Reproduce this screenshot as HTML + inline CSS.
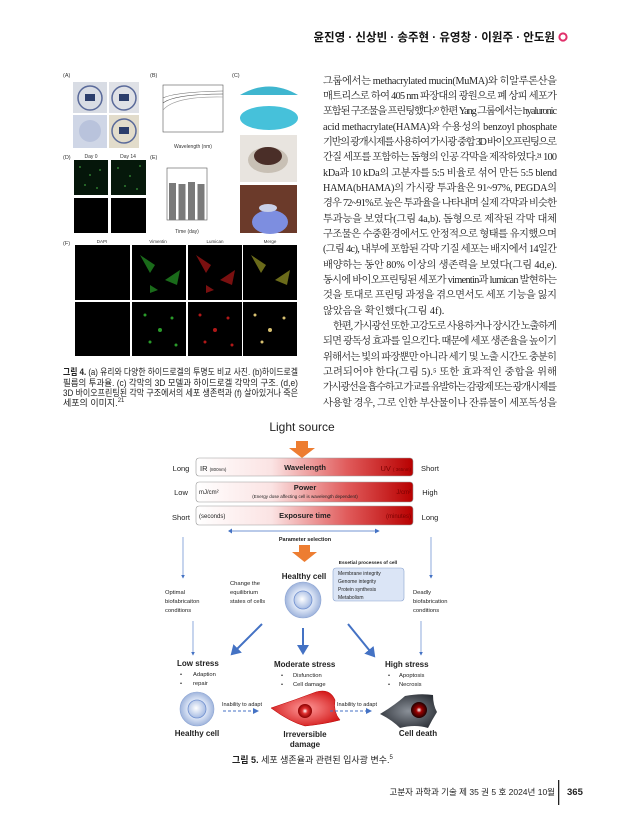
<!DOCTYPE html>
<html><head><meta charset="utf-8"><style>
html,body{margin:0;padding:0;background:#fff;}
svg{display:block;}
.kr{font-family:"Liberation Serif","Noto Serif CJK KR",serif;font-size:10.2px;fill:#222;}
.s{font-family:"Liberation Sans","Noto Sans CJK KR",sans-serif;}
</style></head><body>
<svg width="622" height="830" viewBox="0 0 622 830" xmlns="http://www.w3.org/2000/svg">
<defs>
<linearGradient id="bar" x1="0" x2="1"><stop offset="0" stop-color="#fff"/><stop offset="0.35" stop-color="#fbe3e3"/><stop offset="0.7" stop-color="#e05a5a"/><stop offset="1" stop-color="#b80000"/></linearGradient>
<radialGradient id="hc" cx="0.5" cy="0.5" r="0.5"><stop offset="0" stop-color="#fff"/><stop offset="0.55" stop-color="#dde6f6"/><stop offset="1" stop-color="#9fb4dc"/></radialGradient>
<radialGradient id="hn" cx="0.45" cy="0.45" r="0.6"><stop offset="0" stop-color="#fff"/><stop offset="1" stop-color="#9eb5e0"/></radialGradient>
<radialGradient id="rc" cx="0.5" cy="0.5" r="0.5"><stop offset="0" stop-color="#fff"/><stop offset="0.4" stop-color="#e03030"/><stop offset="1" stop-color="#8b0000"/></radialGradient>
<radialGradient id="rb" cx="0.5" cy="0.5" r="0.6"><stop offset="0" stop-color="#ff9a9a"/><stop offset="1" stop-color="#d01010"/></radialGradient>
<radialGradient id="dc" cx="0.5" cy="0.5" r="0.5"><stop offset="0" stop-color="#fff"/><stop offset="0.35" stop-color="#a00000"/><stop offset="1" stop-color="#200000"/></radialGradient>
<radialGradient id="db" cx="0.5" cy="0.5" r="0.6"><stop offset="0" stop-color="#8a9098"/><stop offset="1" stop-color="#2b2f36"/></radialGradient>
<marker id="ab" markerWidth="6" markerHeight="6" refX="5" refY="3" orient="auto"><path d="M0,0 L6,3 L0,6 z" fill="#4472c4"/></marker>
<marker id="as" markerWidth="8" markerHeight="8" refX="4" refY="4" orient="auto"><path d="M0,1 L5,4 L0,7 z" fill="#4472c4"/></marker>
</defs>

<text x="555" y="41" text-anchor="end" class="s" font-size="11.5" font-weight="bold" fill="#111">윤진영 · 신상빈 · 송주현 · 유영창 · 이원주 · 안도원</text>
<circle cx="563" cy="37" r="3.6" fill="none" stroke="#e0306a" stroke-width="2"/>

<g class="s" font-size="5.5" fill="#333">
<text x="63" y="77">(A)</text><text x="150" y="77">(B)</text><text x="232" y="77">(C)</text>
<text x="63" y="159">(D)</text><text x="150" y="159">(E)</text><text x="63" y="245">(F)</text>
</g>
<g>
<rect x="73" y="82" width="34" height="31" fill="#d8dce4"/><rect x="109" y="82" width="30" height="31" fill="#dfe1e6"/>
<rect x="73" y="115" width="34" height="33" fill="#cfd6e6"/><rect x="109" y="115" width="30" height="33" fill="#e2dccb"/>
<circle cx="90" cy="98" r="12" fill="none" stroke="#5a6a9a" stroke-width="1.5"/><rect x="85" y="94" width="10" height="7" fill="#2b3d6b"/>
<circle cx="124" cy="98" r="12" fill="none" stroke="#5a6a9a" stroke-width="1.5"/><rect x="119" y="94" width="10" height="7" fill="#2b3d6b"/>
<circle cx="90" cy="131" r="11" fill="#b9c3dc"/>
<circle cx="124" cy="131" r="12" fill="none" stroke="#5a6a9a" stroke-width="1.5"/><rect x="119" y="127" width="10" height="7" fill="#2b3d6b"/>
</g>
<g>
<rect x="163" y="85" width="60" height="47" fill="none" stroke="#555" stroke-width="0.6"/>
<path d="M163,98 Q175,92 223,91" stroke="#666" fill="none" stroke-width="0.6"/>
<path d="M163,103 Q175,94 223,94" stroke="#444" fill="none" stroke-width="0.6"/>
<path d="M163,110 Q175,96 223,97" stroke="#999" fill="none" stroke-width="0.6"/>
<text x="193" y="148" text-anchor="middle" class="s" font-size="5" fill="#333">Wavelength (nm)</text>
</g>
<path d="M240,95 Q269,78 298,95 Z" fill="#3fb6cf"/>
<ellipse cx="269" cy="118" rx="29" ry="12" fill="#46c1da"/>
<rect x="240" y="135" width="57" height="47" fill="#e8e4df"/>
<ellipse cx="268" cy="160" rx="20" ry="13" fill="#c8c0b5"/><ellipse cx="268" cy="156" rx="14" ry="9" fill="#4a2e28"/>
<rect x="240" y="185" width="57" height="48" fill="#6b3a2a"/>
<ellipse cx="270" cy="222" rx="18" ry="12" fill="#7d8ee0"/><ellipse cx="268" cy="208" rx="9" ry="4" fill="#c9d0e8"/>
<g class="s" font-size="5" fill="#333"><text x="91" y="158" text-anchor="middle">Day 0</text><text x="128" y="158" text-anchor="middle">Day 14</text></g>
<rect x="74" y="160" width="34" height="35" fill="#05160a"/><rect x="111" y="160" width="35" height="35" fill="#06180b"/>
<rect x="74" y="198" width="34" height="35" fill="#000"/><rect x="111" y="198" width="35" height="35" fill="#000"/>
<g fill="#3c9a3c"><circle cx="80" cy="167" r="0.9"/><circle cx="90" cy="175" r="0.9"/><circle cx="100" cy="170" r="0.9"/><circle cx="85" cy="185" r="0.9"/><circle cx="97" cy="188" r="0.9"/><circle cx="118" cy="168" r="0.9"/><circle cx="130" cy="176" r="0.9"/><circle cx="140" cy="166" r="0.9"/><circle cx="125" cy="186" r="0.9"/><circle cx="137" cy="189" r="0.9"/></g>
<rect x="167" y="168" width="40" height="52" fill="none" stroke="#555" stroke-width="0.6"/>
<g fill="#7a7a7a"><rect x="169" y="183" width="7" height="37"/><rect x="178.5" y="184" width="7" height="36"/><rect x="188" y="182" width="7" height="38"/><rect x="197.5" y="184" width="7" height="36"/></g>
<text x="187" y="233" text-anchor="middle" class="s" font-size="5" fill="#333">Time (day)</text>
<g class="s" font-size="4.5" fill="#333"><text x="102" y="243" text-anchor="middle">DAPI</text><text x="158" y="243" text-anchor="middle">Vimentin</text><text x="215" y="243" text-anchor="middle">Lumican</text><text x="270" y="243" text-anchor="middle">Merge</text></g>
<g fill="#000"><rect x="75" y="245" width="55" height="55"/><rect x="132" y="245" width="54" height="55"/><rect x="188" y="245" width="54" height="55"/><rect x="243" y="245" width="54" height="55"/>
<rect x="75" y="302" width="55" height="54"/><rect x="132" y="302" width="54" height="54"/><rect x="188" y="302" width="54" height="54"/><rect x="243" y="302" width="54" height="54"/></g>
<g fill="#1a6b1a"><path d="M140,255 l15,10 l-5,8 z"/><path d="M165,280 l15,-10 l-3,15 z"/><path d="M150,285 l8,5 l-8,3 z"/></g>
<g fill="#7a1010"><path d="M196,255 l15,10 l-5,8 z"/><path d="M220,280 l15,-10 l-3,15 z"/><path d="M206,285 l8,5 l-8,3 z"/></g>
<g fill="#6b6b1a"><path d="M251,255 l15,10 l-5,8 z"/><path d="M275,280 l15,-10 l-3,15 z"/></g>
<g fill="#2a9a2a"><circle cx="145" cy="315" r="1.5"/><circle cx="160" cy="330" r="2"/><circle cx="172" cy="318" r="1.5"/><circle cx="150" cy="342" r="1.5"/><circle cx="176" cy="345" r="1.5"/></g>
<g fill="#b01818"><circle cx="200" cy="315" r="1.5"/><circle cx="215" cy="330" r="2"/><circle cx="228" cy="318" r="1.5"/><circle cx="205" cy="342" r="1.5"/><circle cx="232" cy="345" r="1.5"/></g>
<g fill="#d8c070"><circle cx="255" cy="315" r="1.5"/><circle cx="270" cy="330" r="2"/><circle cx="284" cy="318" r="1.5"/><circle cx="262" cy="342" r="1.5"/></g>
<g class="s" font-size="9" fill="#222">
<text x="63" y="375" textLength="235" lengthAdjust="spacingAndGlyphs"><tspan font-weight="bold">그림 4.</tspan> (a) 유리와 다양한 하이드로겔의 투명도 비교 사진. (b)하이드로겔</text>
<text x="63" y="386" textLength="235" lengthAdjust="spacingAndGlyphs">필름의 투과율. (c) 각막의 3D 모델과 하이드로겔 각막의 구조. (d,e)</text>
<text x="63" y="396" textLength="235" lengthAdjust="spacingAndGlyphs">3D 바이오프린팅된 각막 구조에서의 세포 생존력과 (f) 살아있거나 죽은</text>
<text x="63" y="406">세포의 이미지.<tspan font-size="6" dy="-4">21</tspan></text>
</g>

<g class="kr">
<text x="323" y="84" textLength="234" lengthAdjust="spacing">그룹에서는 methacrylated mucin(MuMA)와 히알루론산을</text>
<text x="323" y="99" textLength="234" lengthAdjust="spacing">매트리스로 하여 405 nm 파장대의 광원으로 폐 상피 세포가</text>
<text x="323" y="114" textLength="234" lengthAdjust="spacing">포함된 구조물을 프린팅했다.²⁰ 한편 Yang 그룹에서는 hyaluronic</text>
<text x="323" y="130" textLength="234" lengthAdjust="spacing">acid methacrylate(HAMA)와 수용성의 benzoyl phosphate</text>
<text x="323" y="145" textLength="234" lengthAdjust="spacing">기반의 광개시제를 사용하여 가시광 중합 3D 바이오프린팅으로</text>
<text x="323" y="160" textLength="234" lengthAdjust="spacing">간질 세포를 포함하는 돔형의 인공 각막을 제작하였다.²¹ 100</text>
<text x="323" y="176" textLength="234" lengthAdjust="spacing">kDa과 10 kDa의 고분자를 5:5 비율로 섞어 만든 5:5 blend</text>
<text x="323" y="191" textLength="234" lengthAdjust="spacing">HAMA(bHAMA)의 가시광 투과율은 91~97%, PEGDA의</text>
<text x="323" y="206" textLength="234" lengthAdjust="spacing">경우 72~91%로 높은 투과율을 나타내며 실제 각막과 비슷한</text>
<text x="323" y="222" textLength="234" lengthAdjust="spacing">투과능을 보였다(그림 4a,b). 돔형으로 제작된 각막 대체</text>
<text x="323" y="237" textLength="234" lengthAdjust="spacing">구조물은 수중환경에서도 안정적으로 형태를 유지했으며</text>
<text x="323" y="252" textLength="234" lengthAdjust="spacing">(그림 4c), 내부에 포함된 각막 기질 세포는 배지에서 14일간</text>
<text x="323" y="268" textLength="234" lengthAdjust="spacing">배양하는 동안 80% 이상의 생존력을 보였다(그림 4d,e).</text>
<text x="323" y="283" textLength="234" lengthAdjust="spacing">동시에 바이오프린팅된 세포가 vimentin과 lumican 발현하는</text>
<text x="323" y="298" textLength="234" lengthAdjust="spacing">것을 토대로 프린팅 과정을 겪으면서도 세포 기능을 잃지</text>
<text x="323" y="314">않았음을 확인했다(그림 4f).</text>
<text x="333" y="329" textLength="224" lengthAdjust="spacing">한편, 가시광선 또한 고강도로 사용하거나 장시간 노출하게</text>
<text x="323" y="344" textLength="234" lengthAdjust="spacing">되면 광독성 효과를 일으킨다. 때문에 세포 생존율을 높이기</text>
<text x="323" y="360" textLength="234" lengthAdjust="spacing">위해서는 빛의 파장뿐만 아니라 세기 및 노출 시간도 충분히</text>
<text x="323" y="375" textLength="234" lengthAdjust="spacing">고려되어야 한다(그림 5).⁵ 또한 효과적인 중합을 위해</text>
<text x="323" y="390" textLength="234" lengthAdjust="spacing">가시광선을 흡수하고 가교를 유발하는 감광제 또는 광개시제를</text>
<text x="323" y="406" textLength="234" lengthAdjust="spacing">사용할 경우, 그로 인한 부산물이나 잔류물이 세포독성을</text>
</g>

<g class="s" fill="#222">
<text x="302" y="431" text-anchor="middle" font-size="12">Light source</text>
<path d="M296,441 h12 v7 h7 l-13,10 l-13,-10 h7 z" fill="#ed7d31"/>
<rect x="196" y="458" width="217" height="18" rx="3" fill="url(#bar)" stroke="#999" stroke-width="0.6"/>
<rect x="196" y="482" width="217" height="20" rx="3" fill="url(#bar)" stroke="#999" stroke-width="0.6"/>
<rect x="196" y="506" width="217" height="19" rx="3" fill="url(#bar)" stroke="#999" stroke-width="0.6"/>
<g font-size="7.5"><text x="181" y="471" text-anchor="middle">Long</text><text x="430" y="471" text-anchor="middle">Short</text>
<text x="181" y="495" text-anchor="middle">Low</text><text x="430" y="495" text-anchor="middle">High</text>
<text x="181" y="520" text-anchor="middle">Short</text><text x="430" y="520" text-anchor="middle">Long</text></g>
<text x="200" y="471" font-size="7.5">IR <tspan font-size="4.5">(800nm)</tspan></text>
<text x="305" y="470" text-anchor="middle" font-size="7.5" font-weight="bold">Wavelength</text>
<text x="411" y="471" text-anchor="end" font-size="7.5" fill="#7a0000">UV <tspan font-size="4.5">( 365nm)</tspan></text>
<text x="199" y="494" font-size="6">mJ/cm²</text>
<text x="305" y="490" text-anchor="middle" font-size="7.5" font-weight="bold">Power</text>
<text x="305" y="498" text-anchor="middle" font-size="4.5">(Energy dose affecting cell is wavelength dependent)</text>
<text x="411" y="494" text-anchor="end" font-size="6" fill="#7a0000">J/cm²</text>
<text x="199" y="518" font-size="6">(seconds)</text>
<text x="305" y="518" text-anchor="middle" font-size="7.5" font-weight="bold">Exposure time</text>
<text x="411" y="518" text-anchor="end" font-size="6" fill="#7a0000">(minutes)</text>
<line x1="230" y1="531" x2="379" y2="531" stroke="#4472c4" stroke-width="0.8" marker-end="url(#ab)"/>
<path d="M232,528.5 L228,531 L232,533.5 z" fill="#4472c4"/>
<text x="305" y="541" text-anchor="middle" font-size="5.5" font-weight="bold">Parameter selection</text>
<path d="M299,545 h11 v7 h7 l-12.5,10 l-12.5,-10 h7 z" fill="#ed7d31"/>
<text x="368" y="564" text-anchor="middle" font-size="4.8" font-weight="bold">Essetial processes of cell</text>
<rect x="333" y="568" width="71" height="33" rx="3" fill="#dbe5f6" stroke="#8aa3cf" stroke-width="0.6"/>
<g font-size="5"><text x="338" y="575">Membrane integrity</text><text x="338" y="583">Genome integrity</text><text x="338" y="591">Protein synthesis</text><text x="338" y="599">Metabolism</text></g>
<text x="304" y="579" text-anchor="middle" font-size="8" font-weight="bold">Healthy cell</text>
<circle cx="303" cy="600" r="18" fill="url(#hc)" stroke="#8ea6d4" stroke-width="0.6"/>
<circle cx="303" cy="600" r="9" fill="url(#hn)" stroke="#6f8fcf" stroke-width="0.8"/>
<line x1="183" y1="537" x2="183" y2="578" stroke="#4472c4" stroke-width="0.6" marker-end="url(#ab)"/>
<line x1="431" y1="537" x2="431" y2="578" stroke="#4472c4" stroke-width="0.6" marker-end="url(#ab)"/>
<g font-size="5.8"><text x="165" y="594">Optimal</text><text x="165" y="603">biofabricaiton</text><text x="165" y="612">conditions</text>
<text x="230" y="585">Change the</text><text x="230" y="594">equilibrium</text><text x="230" y="603">states of cells</text>
<text x="413" y="594">Deadly</text><text x="413" y="603">biofabrication</text><text x="413" y="612">conditions</text></g>
<line x1="193" y1="621" x2="193" y2="655" stroke="#4472c4" stroke-width="0.6" marker-end="url(#ab)"/>
<line x1="421" y1="621" x2="421" y2="655" stroke="#4472c4" stroke-width="0.6" marker-end="url(#ab)"/>
<line x1="262" y1="624" x2="232" y2="654" stroke="#4472c4" stroke-width="2" marker-end="url(#as)"/>
<line x1="303" y1="628" x2="303" y2="653" stroke="#4472c4" stroke-width="2" marker-end="url(#as)"/>
<line x1="348" y1="624" x2="374" y2="656" stroke="#4472c4" stroke-width="2" marker-end="url(#as)"/>
<text x="177" y="666" font-size="8" font-weight="bold">Low stress</text>
<g font-size="5.8"><text x="180" y="676">•</text><text x="193" y="676">Adaption</text><text x="180" y="685">•</text><text x="193" y="685">repair</text></g>
<text x="274" y="667" font-size="8" font-weight="bold">Moderate stress</text>
<g font-size="5.8"><text x="281" y="677">•</text><text x="293" y="677">Disfunction</text><text x="281" y="686">•</text><text x="293" y="686">Cell damage</text></g>
<text x="385" y="667" font-size="8" font-weight="bold">High stress</text>
<g font-size="5.8"><text x="388" y="677">•</text><text x="399" y="677">Apoptosis</text><text x="388" y="686">•</text><text x="399" y="686">Necrosis</text></g>
<circle cx="197" cy="709" r="17" fill="url(#hc)" stroke="#8ea6d4" stroke-width="0.6"/>
<circle cx="197" cy="709" r="9" fill="url(#hn)" stroke="#6f8fcf" stroke-width="0.8"/>
<text x="242" y="706" text-anchor="middle" font-size="5.5">Inability to adapt</text>
<line x1="223" y1="711" x2="258" y2="711" stroke="#4472c4" stroke-width="1" stroke-dasharray="3,2" marker-end="url(#ab)"/>
<path d="M271,708 Q295,700 316,692 Q330,688 335,700 Q333,712 340,720 Q325,724 305,726 Q290,722 271,708 z" fill="url(#rb)" stroke="#b00" stroke-width="0.5"/>
<circle cx="305" cy="711" r="7" fill="url(#rc)"/>
<text x="357" y="706" text-anchor="middle" font-size="5.5">Inability to adapt</text>
<line x1="330" y1="711" x2="371" y2="711" stroke="#4472c4" stroke-width="1" stroke-dasharray="3,2" marker-end="url(#ab)"/>
<path d="M380,714 Q395,705 405,696 Q420,693 433,695 Q433,705 437,712 Q432,720 428,728 Q415,724 400,728 Q392,720 380,714 z" fill="url(#db)"/>
<circle cx="419" cy="710" r="8" fill="url(#dc)"/>
<text x="197" y="736" text-anchor="middle" font-size="8" font-weight="bold">Healthy  cell</text>
<text x="305" y="737" text-anchor="middle" font-size="8" font-weight="bold">Irreversible</text>
<text x="305" y="747" text-anchor="middle" font-size="8" font-weight="bold">damage</text>
<text x="418" y="736" text-anchor="middle" font-size="8" font-weight="bold">Cell death</text>
</g>

<text x="232" y="763" class="s" font-size="9" fill="#222"><tspan font-weight="bold">그림 5.</tspan> 세포 생존율과 관련된 입사광 변수.<tspan font-size="6" dy="-4">5</tspan></text>

<text x="555" y="795" text-anchor="end" class="s" font-size="8.5" fill="#222">고분자 과학과 기술 제 35 권 5 호 2024년 10월</text>
<rect x="558" y="780" width="1.3" height="25" fill="#222"/>
<text x="567" y="795" class="s" font-size="9.5" font-weight="bold" fill="#222">365</text>
</svg>
</body></html>
